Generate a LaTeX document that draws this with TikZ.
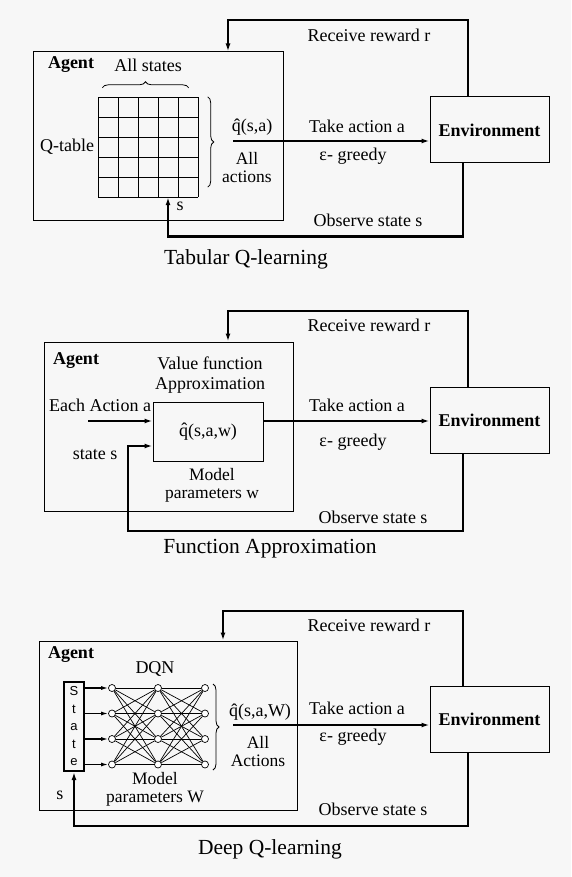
\documentclass[tikz,border=0pt]{standalone}
\usepackage{fontspec}
\setmainfont{Liberation Serif}
\setsansfont{Liberation Sans}
\usepackage{xcolor}
\definecolor{paper}{RGB}{247,247,247}
\usetikzlibrary{arrows.meta,positioning,calc,decorations.pathreplacing}
\tikzset{
  ag_box/.style={rectangle,draw=black,line width=1pt,inner sep=0pt,
    minimum height=169pt},
  env_box/.style={rectangle,draw=black,line width=1pt,inner sep=0pt,
    minimum width=119pt,minimum height=66pt,
    font=\fontsize{18}{20}\selectfont\bfseries},
  lbl/.style={inner sep=0pt,align=center,font=\fontsize{18}{20}\selectfont},
  lbl_tight/.style={inner sep=0pt,align=center,font=\fontsize{17.5}{18}\selectfont},
  ag_lbl/.style={inner sep=0pt,font=\fontsize{18}{20}\selectfont\bfseries},
  fig_cap/.style={inner sep=0pt,font=\fontsize{21.5}{24}\selectfont},
  conn/.style={line width=2pt,draw=black},
  tip/.style={-{Latex[length=8pt,width=5pt]}},
  brc/.style={decorate,decoration={brace,amplitude=6pt},line width=0.8pt},
  cell/.style={line width=1pt},
  neuron/.style={circle,draw=black,fill=white,line width=0.7pt,
    minimum size=7pt,inner sep=0pt},
  wire/.style={line width=0.7pt},
}
\begin{document}
\begin{tikzpicture}[x=1pt,y=1pt]
  \useasboundingbox[fill=paper] (0,0) rectangle (571,-877);

  % --- Tabular Q-learning ---
  \node (agent1) [ag_box,minimum width=250pt] at (158,-136.5) {};
  \node (env1) [env_box] at (489.5,-130) {Environment};
  \node (ag1lbl) [ag_lbl] at (71,-65) {Agent};
  \node (qtab) [minimum size=100pt,inner sep=0pt] at (148.5,-147) {};
  \draw[cell,shift={(qtab.south west)}] (0,0) grid[step=20] (100,100);
  \node (qtlbl) [lbl,left=4pt of qtab] {Q-table};
  \draw[brc] ([shift={(4,9)}]qtab.north west) -- ([shift={(-10,9)}]qtab.north east);
  \node (allst1) [lbl] at (148,-65) {All states};
  \draw[brc] ([xshift=9]qtab.north east) -- ([shift={(9,10)}]qtab.south east);
  \node (q1) [lbl] at (252,-127) {\^q(s,a)};
  \node (allac1) [lbl_tight] at (247,-168) {All\\actions};
  \node (s1) [lbl] at (180,-206) {s};
  \coordinate (act1) at (233,-141);
  \draw[conn,tip] (act1) -- (act1 -| env1.west);
  \draw[conn,tip] ([xshift=-21.5]env1.north) -- ++(0,76) -| ([xshift=70]agent1.north);
  \draw[conn,tip] ([xshift=-26.5]env1.south) -- ++(0,-73) -| ([xshift=19.5]qtab.south);
  \node (rw1) [lbl] at (369,-35) {Receive reward r};
  \node (ta1) [lbl] at (357,-126) {Take action a};
  \node (eg1) [lbl] at (353,-156) {ε- greedy};
  \node (ob1) [lbl] at (368,-220) {Observe state s};
  \node (cap1) [fig_cap] at (246,-259) {Tabular Q-learning};

  % --- Function Approximation ---
  \node (agent2) [ag_box,minimum width=249pt] at (168.5,-426.5) {};
  \node (env2) [env_box] at (489.5,-420) {Environment};
  \node (ag2lbl) [ag_lbl] at (76,-361) {Agent};
  \node (vfa) [rectangle,draw=black,line width=1pt,minimum width=110pt,
               minimum height=59pt,inner sep=0pt,font=\fontsize{18}{20}\selectfont]
    at (208,-431.5) {\^q(s,a,w)};
  \node (vflbl) [lbl] at (210,-375) {Value function\\Approximation};
  \node (each2) [lbl] at (100,-405) {Each Action a};
  \node (st2) [lbl] at (95,-455) {state s};
  \node (mp2) [lbl_tight] at (212,-485) {Model\\parameters w};
  \coordinate (in2) at (88,-421);
  \coordinate (fbk2) at (128,-446);
  \draw[conn,tip] (in2) -- (in2 -| vfa.west);
  \draw[conn,tip] ([yshift=10.5]vfa.east) -- ([yshift=10.5]vfa.east -| env2.west);
  \draw[conn,tip] ([xshift=-21.5]env2.north) -- ++(0,76) -| ([xshift=59.5]agent2.north);
  \draw[conn,tip] ([xshift=-26.5]env2.south) -- ++(0,-77) -| (fbk2) -- (fbk2 -| vfa.west);
  \node (rw2) [lbl] at (369,-325) {Receive reward r};
  \node (ta2) [lbl] at (357,-405) {Take action a};
  \node (eg2) [lbl] at (353,-442) {ε- greedy};
  \node (ob2) [lbl] at (373,-517) {Observe state s};
  \node (cap2) [fig_cap] at (270,-549) {Function Approximation};

  % --- Deep Q-learning ---
  \node (agent3) [ag_box,minimum width=258pt] at (168,-725.5) {};
  \node (env3) [env_box] at (489.5,-719) {Environment};
  \node (ag3lbl) [ag_lbl] at (71,-655) {Agent};
  \node (state) [rectangle,draw=black,line width=2pt,minimum width=20pt,
                 minimum height=89pt,inner sep=0pt,align=center,
                 font=\sffamily\fontsize{13}{17.5}\selectfont]
    at (74,-726.5) {S\\t\\a\\t\\e};
  \foreach \l/\x in {1/112,2/158,3/205}
    \foreach \r/\y in {1/688,2/713.5,3/739,4/764.5}
      \node (n\l\r) [neuron] at (\x,-\y) {};
  \foreach \i in {1,...,4}
    \foreach \j in {1,...,4} {
      \draw[wire] (n1\i) -- (n2\j);
      \draw[wire] (n2\i) -- (n3\j);
    }
  \foreach \r in {1,...,4}
    \draw[line width=1.3pt,-{Latex[length=7pt,width=4pt]}] (state.east |- n1\r) -- (n1\r);
  \node (dqn) [lbl] at (155,-669) {DQN};
  \node (mp3) [lbl_tight] at (155,-789) {Model\\parameters W};
  \draw[brc] (213,-684) -- (213,-770);
  \node (q3) [lbl] at (260,-712) {\^q(s,a,W)};
  \node (allac3) [lbl_tight] at (258,-752) {All\\Actions};
  \node (s3) [lbl] at (60,-795) {s};
  \coordinate (act3) at (233,-725);
  \draw[conn,tip] (act3) -- (act3 -| env3.west);
  \draw[conn,tip] ([xshift=-26.5]env3.north) -- ++(0,75) -| ([xshift=55]agent3.north);
  \draw[conn,tip] ([xshift=-21.5]env3.south) -- ++(0,-73) -| (state.south);
  \node (rw3) [lbl] at (369,-625) {Receive reward r};
  \node (ta3) [lbl] at (357,-708) {Take action a};
  \node (eg3) [lbl] at (353,-737) {ε- greedy};
  \node (ob3) [lbl] at (373,-809) {Observe state s};
  \node (cap3) [fig_cap] at (270,-849) {Deep Q-learning};
\end{tikzpicture}
\end{document}
